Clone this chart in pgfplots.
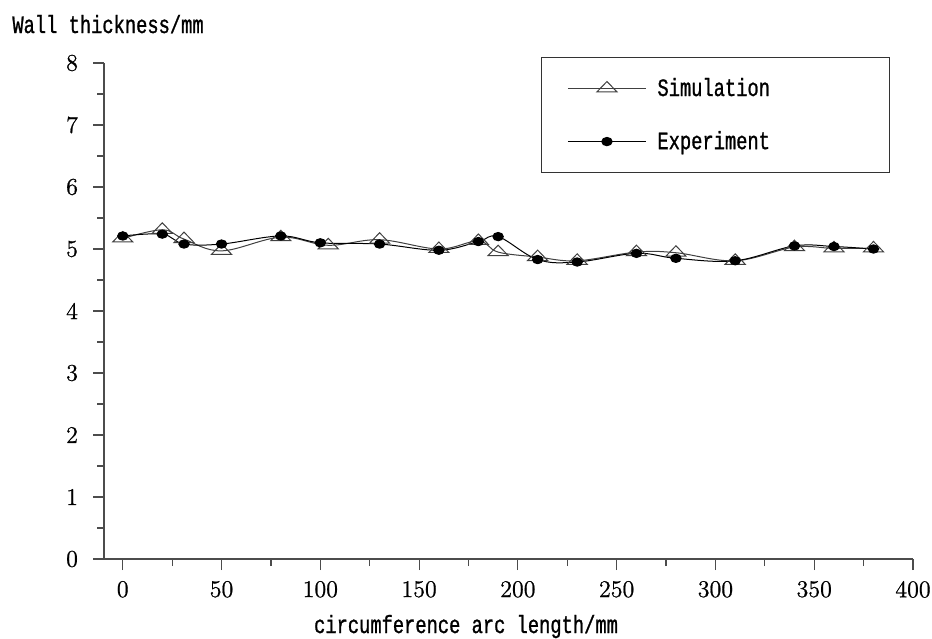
\documentclass[border=0pt]{standalone}
\usepackage{fontspec}
\usepackage{pgfplots}
\pgfplotsset{compat=1.18}
\newfontfamily\labfont[FakeStretch=0.75,FakeBold=1]{Liberation Mono}
\newfontfamily\numfont[FakeBold=0.8]{Latin Modern Roman}

\begin{document}
\begin{tikzpicture}
\useasboundingbox (-52pt,-39.5pt) rectangle (414pt,279.5pt);
\begin{axis}[
    at={(0,0)}, anchor=south west,
    scale only axis,
    width=404.5pt, height=248pt,
    xmin=-9.5, xmax=400,
    ymin=0, ymax=8,
    axis lines=left,
    axis line style={-, black!70, line width=0.6pt},
    tick align=outside,
    major tick length=5.5pt,
    minor tick length=3.5pt,
    tick style={black!70, line width=0.6pt},
    xtick={0,50,...,400},
    ytick={0,1,...,8},
    minor x tick num=1,
    minor y tick num=1,
    /pgf/number format/assume math mode=true,
    ticklabel style={font=\numfont\fontsize{12}{14}\selectfont},
    yticklabel style={xshift=-4pt},
    xticklabel style={yshift=-2pt},
    xlabel={circumference arc length/mm},
    ylabel={Wall thickness/mm},
    every axis x label/.style={at={(rel axis cs:0.4475,0)}, anchor=base,
        yshift=-37pt, inner sep=0pt, font=\labfont\fontsize{12.5}{14}\selectfont},
    every axis y label/.style={at={(rel axis cs:0,1)}, anchor=base west,
        xshift=-46pt, yshift=15pt, inner sep=0pt, font=\labfont\fontsize{12.5}{14}\selectfont},
    legend style={at={(rel axis cs:0.54,1.0115)}, anchor=north west,
        draw=black!80, line width=0.6pt, inner xsep=13pt, inner ysep=7pt,
        row sep=10pt, nodes={inner sep=3pt},
        font=\labfont\fontsize{12.5}{14}\selectfont, cells={anchor=west}},
    legend image code/.code={\draw[mark repeat=2,mark phase=2,#1]
        plot coordinates {(0pt,0pt) (19.5pt,0pt) (39pt,0pt)};},
]
\addplot[
    color=black!75,
    line width=0.5pt,
    smooth, tension=0.6,
    mark=triangle,
    mark size=5.8pt,
    mark options={yscale=0.6, fill=white, draw=black!75, solid}
] coordinates {
    (0,5.17)
    (20,5.31)
    (31,5.16)
    (50,4.97)
    (80,5.19)
    (104,5.06)
    (130,5.15)
    (160,5.00)
    (180,5.13)
    (190,4.95)
    (210,4.87)
    (230,4.81)
    (260,4.95)
    (280,4.94)
    (310,4.81)
    (340,5.03)
    (360,5.01)
    (380,5.01)
};
\addlegendentry{\hspace{2.5pt}\makebox[100pt][l]{Simulation}}
\addplot[
    color=black,
    line width=0.5pt,
    smooth, tension=0.6,
    mark=*,
    mark size=2.6pt,
    mark options={yscale=0.8, fill=black}
] coordinates {
    (0,5.21)
    (20,5.24)
    (31,5.08)
    (50,5.08)
    (80,5.21)
    (100,5.10)
    (130,5.08)
    (160,4.98)
    (180,5.12)
    (190,5.20)
    (210,4.83)
    (230,4.79)
    (260,4.93)
    (280,4.85)
    (310,4.81)
    (340,5.05)
    (360,5.04)
    (380,5.00)
};
\addlegendentry{\hspace{2.5pt}\makebox[100pt][l]{Experiment}}
\end{axis}
\end{tikzpicture}
\end{document}
